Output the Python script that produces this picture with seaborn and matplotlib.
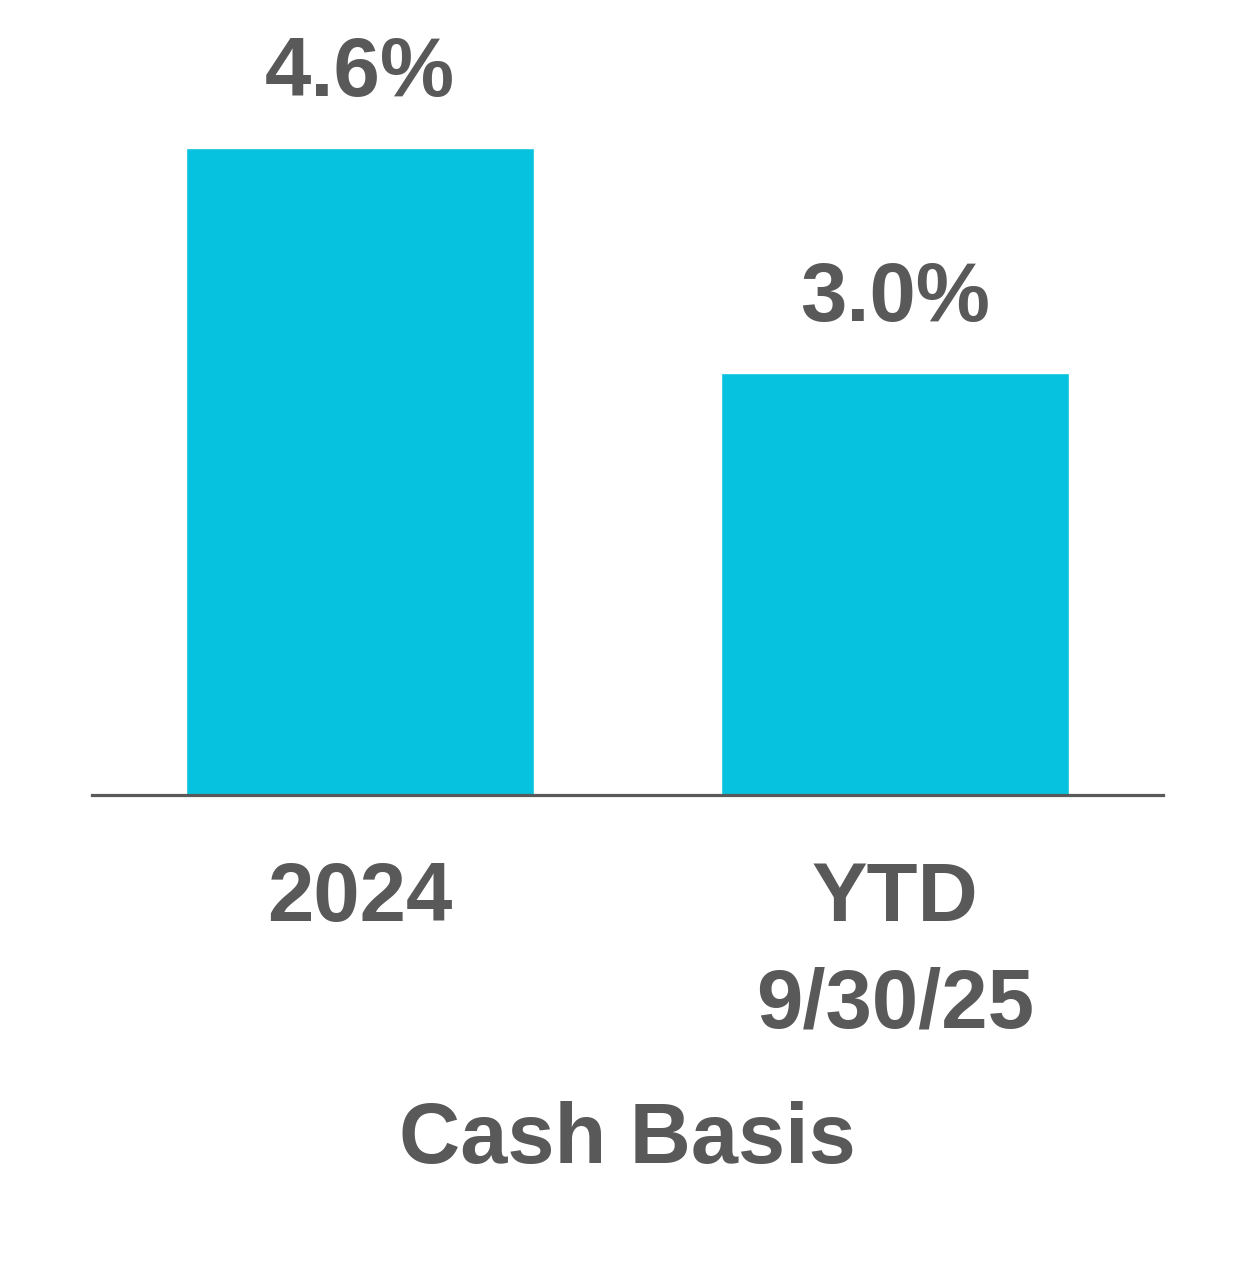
import matplotlib
matplotlib.use("Agg")
import matplotlib.pyplot as plt
import seaborn as sns
import pandas as pd

# Data
categories = ["2024", "YTD\n9/30/25"]
values = [4.6, 3.0]
value_labels = ["4.6%", "3.0%"]
axis_title = "Cash Basis"

bar_color = "#07C2DE"
text_color = "#595959"

sns.set_style("white")
plt.rcParams["font.family"] = ["Liberation Sans", "DejaVu Sans"]
plt.rcParams["font.weight"] = "bold"

df = pd.DataFrame({"period": categories, "value": values})

fig = plt.figure(figsize=(12.54, 12.72), dpi=100)
ax = fig.add_axes([92 / 1254, (1272 - 795) / 1272, 1071 / 1254, 795 / 1272])

sns.barplot(data=df, x="period", y="value", color=bar_color, width=0.65,
            saturation=1, ax=ax)

ax.set_xlim(-0.5, 1.5)
ax.set_ylim(0, 5.65)

# value labels above the bars
ax.bar_label(ax.containers[0], labels=value_labels, padding=25,
             fontsize=60, fontweight="bold", color=text_color)

# axes styling: only the baseline
for side in ["top", "right", "left"]:
    ax.spines[side].set_visible(False)
ax.spines["bottom"].set_color(text_color)
ax.spines["bottom"].set_linewidth(2.3)
ax.set_yticks([])
ax.set_ylabel("")

ax.tick_params(axis="x", length=0, pad=47, labelsize=60, labelcolor=text_color)
for lbl in ax.get_xticklabels():
    lbl.set_fontweight("bold")
    lbl.set_linespacing(1.47)

ax.set_xlabel(axis_title, fontsize=61, fontweight="bold", color=text_color,
              labelpad=40)

fig.savefig("out.png", dpi=100)
